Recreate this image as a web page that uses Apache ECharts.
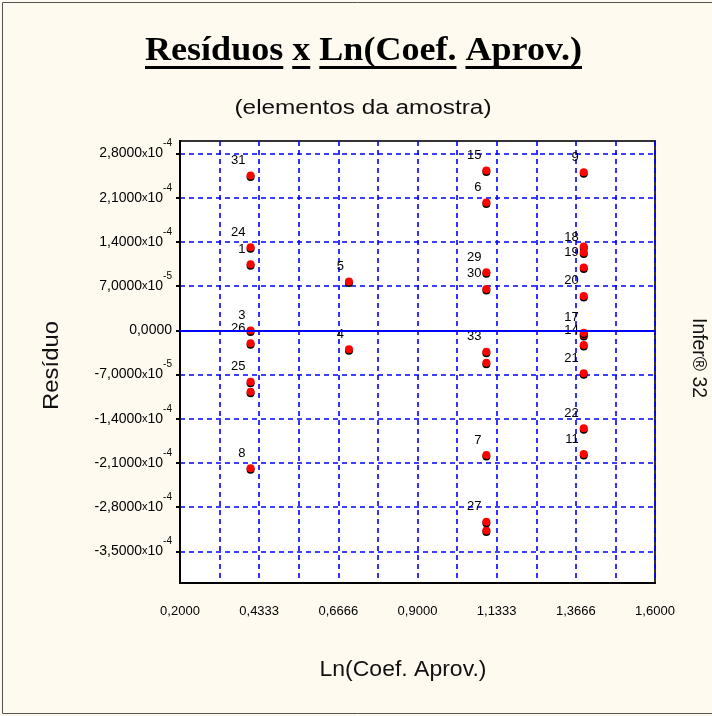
<!DOCTYPE html>
<html><head><meta charset="utf-8">
<script src="https://cdn.jsdelivr.net/npm/echarts@6/dist/echarts.min.js"></script>
<style>html,body{margin:0;padding:0;background:#fffaf0}#c{width:712px;height:716px}</style>
</head><body><div id="c"></div>
<script>
// ---- data ----
const titleWords = ['Resíduos', 'x', 'Ln(Coef.', 'Aprov.)'];
const subtitleText = '(elementos da amostra)';
const xAxisTitle = 'Ln(Coef. Aprov.)';
const yAxisTitle = 'Resíduo';
const sideText = 'Infer® 32';

const xLabelVals = [0.2, 0.433333, 0.666667, 0.9, 1.133333, 1.366667, 1.6];
const xLabelText = ['0,2000', '0,4333', '0,6666', '0,9000', '1,1333', '1,3666', '1,6000'];
const xGridVals = [0.2, 0.316667, 0.433333, 0.55, 0.666667, 0.783333, 0.9, 1.016667, 1.133333, 1.25, 1.366667, 1.483333, 1.6];

const yTickVals = [-3.5e-4, -2.8e-4, -2.1e-4, -1.4e-4, -7e-5, 0, 7e-5, 1.4e-4, 2.1e-4, 2.8e-4];
const yTickMant = ['-3,5000', '-2,8000', '-2,1000', '-1,4000', '-7,0000', '0,0000', '7,0000', '1,4000', '2,1000', '2,8000'];
const yTickExp = ['-4', '-4', '-4', '-4', '-5', '', '-5', '-4', '-4', '-4'];

const pointIds = ['31', '24', '1', '3', '26', '23', '25', '8',
                  '5', '4',
                  '15', '6', '29', '30', '28', '33', '7', '13', '27',
                  '9', '16', '18', '19', '20', '10', '17', '14', '21', '22', '11'];
// labels that are covered by neighbouring labels in the original
const hiddenLabels = ['23', '28', '13', '16', '10'];
const pointX = [0.408, 0.408, 0.408, 0.408, 0.408, 0.408, 0.408, 0.408,
                0.698, 0.698,
                1.103, 1.103, 1.103, 1.103, 1.103, 1.103, 1.103, 1.103, 1.103,
                1.390, 1.390, 1.390, 1.390, 1.390, 1.390, 1.390, 1.390, 1.390, 1.390, 1.390];
const pointY = [2.454e-4, 1.319e-4, 1.049e-4, -0.3e-6, -2.03e-5, -9.70e-5, -8.11e-5, -2.184e-4,
                7.73e-5, -2.98e-5,
                2.533e-4, 2.026e-4, 9.22e-5, 6.58e-5, -5.10e-5, -3.36e-5, -1.973e-4, -3.17e-4, -3.03e-4,
                2.507e-4, 1.328e-4, 1.233e-4, 9.95e-5, 5.47e-5, -7.1e-6, -3.5e-6, -2.30e-5, -6.78e-5, -1.55e-4, -1.957e-4];

// ---- helpers ----
const cv = document.createElement('canvas');
const ctx = cv.getContext('2d');
function measure(size, family, weight, s) {
  ctx.font = (weight || 'normal') + ' ' + size + 'px ' + family;
  return ctx.measureText(s).width;
}
function nearestIdx(arr, v) {
  let b = 0, d = Infinity;
  arr.forEach((a, i) => { const dd = Math.abs(a - v); if (dd < d) { d = dd; b = i; } });
  return b;
}

// title group (words underlined separately)
const TF = '"Liberation Serif"', TS = 33;
const spaceW = measure(TS, TF, 'bold', ' ');
const titleChildren = [];
let cx = 0;
titleWords.forEach(w => {
  const ww = measure(TS, TF, 'bold', w);
  titleChildren.push({ type: 'text', x: cx, y: 0,
    style: { text: w, fontSize: TS, fontFamily: TF, fontWeight: 'bold', fill: '#000', align: 'left', verticalAlign: 'middle' } });
  titleChildren.push({ type: 'rect', shape: { x: cx, y: 14.5, width: ww, height: 3 }, style: { fill: '#000' } });
  cx += ww + spaceW;
});
const titleNat = cx - spaceW;
const titleScale = 437 / titleNat;

function stretchedText(text, x, y, size, family, targetW, rotation) {
  const w = measure(size, family, 'normal', text);
  return { type: 'text', x: x, y: y, rotation: rotation || 0, scaleX: targetW / w,
    style: { text: text, fontSize: size, fontFamily: family, fill: '#111', align: 'center', verticalAlign: 'middle' } };
}

const SF = '"Liberation Sans"';
const chart = echarts.init(document.getElementById('c'), null, { renderer: 'canvas' });
chart.setOption({
  animation: false,
  backgroundColor: '#fffaf0',
  grid: { left: 180, right: 57, top: 141, bottom: 133, containLabel: false, outerBoundsMode: 'none',
          show: true, backgroundColor: '#ffffff', borderColor: '#333', borderWidth: 2 },
  xAxis: {
    type: 'value', min: 0.2, max: 1.6,
    axisLine: { show: true, onZero: false, lineStyle: { color: '#000', width: 2 } },
    axisTick: { show: false, customValues: xGridVals },
    axisLabel: { customValues: xLabelVals, margin: 22, fontSize: 13, fontFamily: SF, color: '#000',
      formatter: v => xLabelText[nearestIdx(xLabelVals, v)] },
    splitLine: { show: true, lineStyle: { color: '#0000ff', type: [5, 4], width: 1.6 } }
  },
  yAxis: {
    type: 'value', min: -4e-4, max: 3e-4,
    axisLine: { show: true, onZero: false, lineStyle: { color: '#000', width: 2 } },
    axisTick: { show: true, customValues: yTickVals, length: 4, lineStyle: { color: '#000', width: 2 } },
    axisLabel: { customValues: yTickVals, margin: 8, color: '#000', fontFamily: SF,
      formatter: v => {
        const i = nearestIdx(yTickVals, v);
        if (!yTickExp[i]) return '{m|' + yTickMant[i] + '}';
        return '{m|' + yTickMant[i] + '}{x|x}{t|10}{s|' + yTickExp[i] + '}';
      },
      rich: {
        m: { fontSize: 14, fontFamily: SF, color: '#000' },
        x: { fontSize: 11, fontFamily: SF, color: '#000' },
        t: { fontSize: 14, fontFamily: SF, color: '#000' },
        s: { fontSize: 10, fontFamily: SF, color: '#000', lineHeight: 10, padding: [0, 0, 20, 0] }
      }
    },
    splitLine: { show: true, lineStyle: { color: '#0000ff', type: [5, 4], width: 1.6 } }
  },
  series: [{
    type: 'scatter',
    data: pointX.map((x, i) => ({ value: [x, pointY[i]], name: pointIds[i],
      label: { show: hiddenLabels.indexOf(pointIds[i]) < 0 } })),
    symbol: 'circle', symbolSize: 8,
    itemStyle: { color: '#ff0000', borderWidth: 0, opacity: 1,
      shadowColor: '#000', shadowOffsetX: 0, shadowOffsetY: 1.5, shadowBlur: 0 },
    label: { show: true, position: [-1, -11], align: 'right', verticalAlign: 'middle',
      formatter: p => p.name, fontSize: 13, fontFamily: SF, color: '#000',
      textBorderWidth: 0, opacity: 1 },
    emphasis: { disabled: true },
    markLine: { silent: true, symbol: 'none', label: { show: false },
      lineStyle: { color: '#0000ff', type: 'solid', width: 2 }, data: [{ yAxis: 0 }] }
  }],
  graphic: [
    { type: 'group', x: 145, y: 51.5, scaleX: titleScale, children: titleChildren },
    stretchedText(subtitleText, 363, 108, 20, SF, 257, 0),
    stretchedText(yAxisTitle, 52, 365.5, 22, SF, 89, Math.PI / 2),
    stretchedText(sideText, 699, 358, 20, SF, 80, -Math.PI / 2),
    stretchedText(xAxisTitle, 403, 670, 22, SF, 167, 0),
    { type: 'line', shape: { x1: 2.5, y1: 2.5, x2: 2.5, y2: 713.5 }, style: { stroke: '#555', lineWidth: 1 } },
    { type: 'line', shape: { x1: 2.5, y1: 2.5, x2: 712, y2: 2.5 }, style: { stroke: '#555', lineWidth: 1 } },
    { type: 'line', shape: { x1: 2.5, y1: 713.5, x2: 712, y2: 713.5 }, style: { stroke: '#555', lineWidth: 1 } }
  ]
});
</script></body></html>
